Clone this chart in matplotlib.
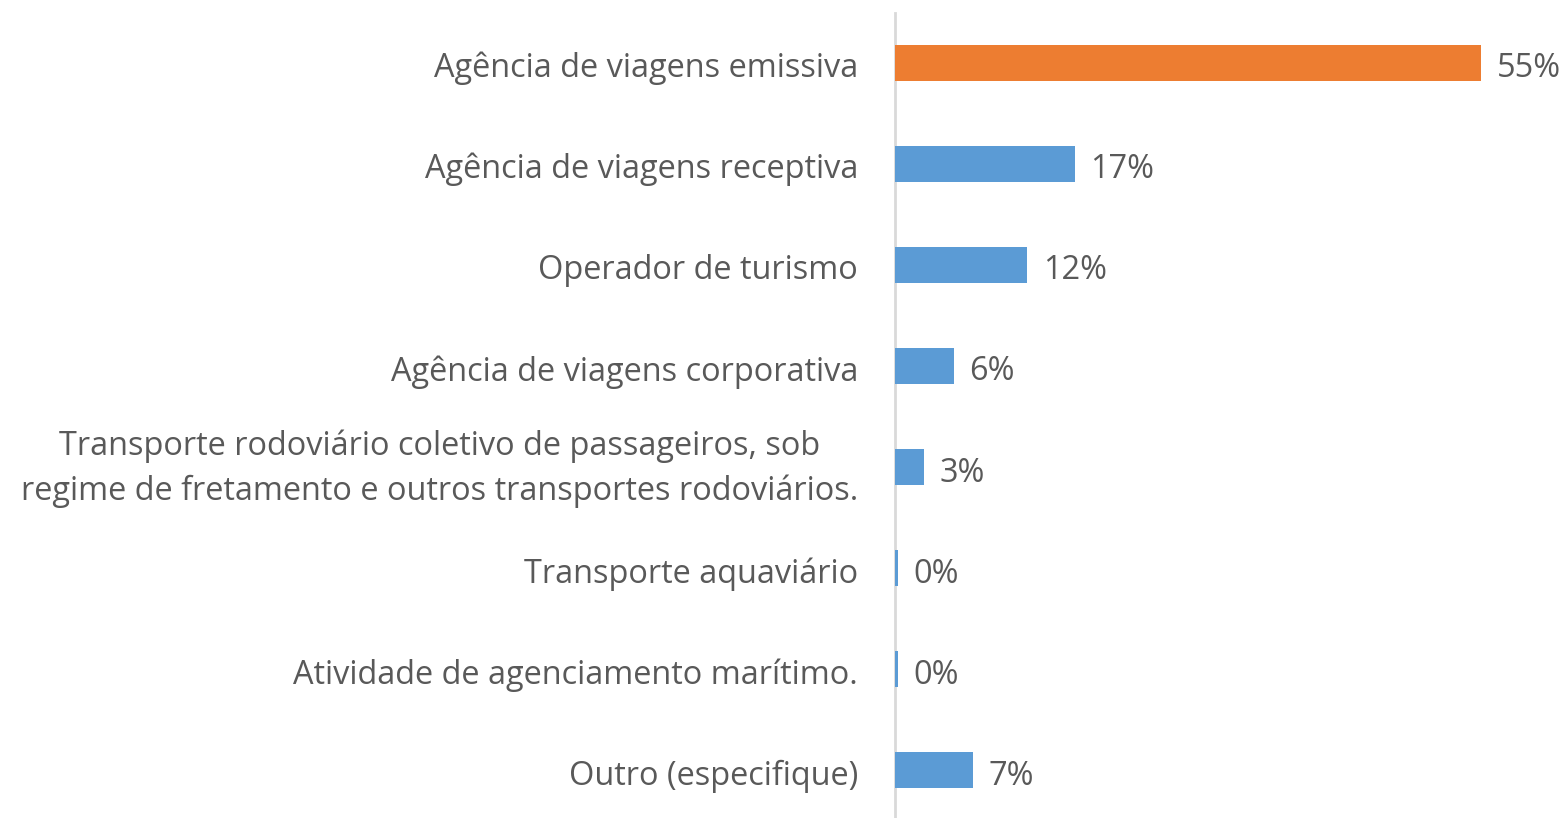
import matplotlib.pyplot as plt
import matplotlib

matplotlib.rcParams["font.family"] = ["Open Sans", "DejaVu Sans"]

categories = [
    "Agência de viagens emissiva",
    "Agência de viagens receptiva",
    "Operador de turismo",
    "Agência de viagens corporativa",
    "Transporte rodoviário coletivo de passageiros, sob\nregime de fretamento e outros transportes rodoviários.",
    "Transporte aquaviário",
    "Atividade de agenciamento marítimo.",
    "Outro (especifique)",
]
values = [55.0, 16.9, 12.4, 5.5, 2.7, 0.25, 0.25, 7.3]
labels = ["55%", "17%", "12%", "6%", "3%", "0%", "0%", "7%"]
colors = ["#ED7D31"] + ["#5B9BD5"] * 7

text_color = "#595959"
fs = 23.4

fig = plt.figure(figsize=(15.62, 8.18), dpi=100)
W, H = 1562, 818
ax = fig.add_axes([895 / W, -3 / H, (1562 - 895) / W, 809 / H])

y = list(range(len(categories)))
ax.barh(y, values, height=0.355, color=colors, zorder=3)
ax.set_ylim(len(categories) - 0.5, -0.5)
ax.set_xlim(0, (1562 - 895) / 10.655)

for yi, v, lab in zip(y, values, labels):
    ax.text(v + 1.45, yi + 0.02, lab, va="center_baseline", ha="left",
            fontsize=fs, color=text_color)

# category labels drawn as text, right-aligned left of the axis line
lab_x = -37 / (1562 - 895)
for yi, cat in zip(y, categories):
    va = "center" if "\n" in cat else "center_baseline"
    ax.text(lab_x, yi + 0.02, cat, transform=ax.get_yaxis_transform(),
            ha="right", va=va, multialignment="center",
            linespacing=1.45, fontsize=fs, color=text_color)

ax.set_yticks([])
ax.set_xticks([])

for s in ["top", "right", "bottom"]:
    ax.spines[s].set_visible(False)
ax.spines["left"].set_color("#D9D9D9")
ax.spines["left"].set_linewidth(2)
ax.spines["left"].set_bounds(len(categories) - 0.5 + 0.1, -0.5 + 0.01)

fig.savefig("out.png", dpi=100)
